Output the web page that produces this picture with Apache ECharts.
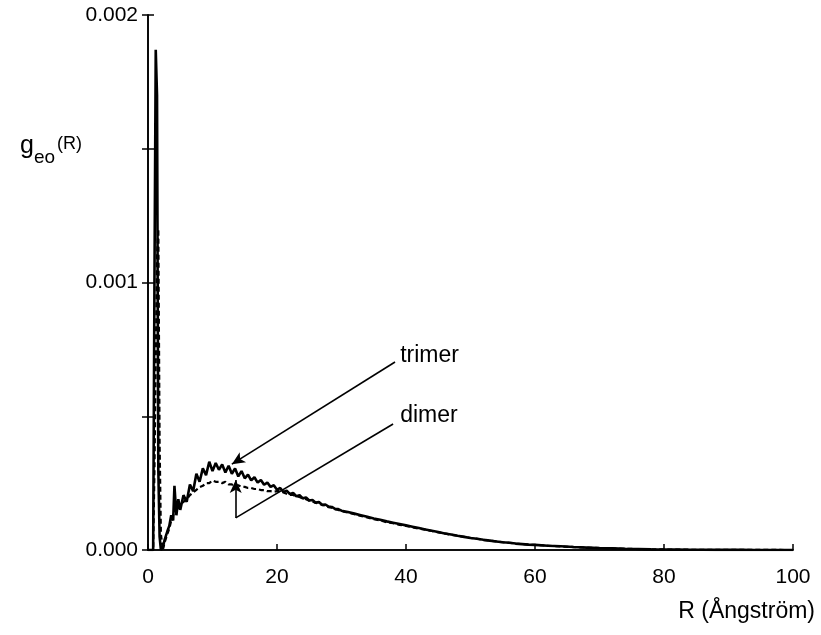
<!DOCTYPE html>
<html>
<head>
<meta charset="utf-8">
<script src="https://cdn.jsdelivr.net/npm/echarts@6/dist/echarts.min.js"></script>
<style>html,body{margin:0;padding:0;background:#fff}#c{width:821px;height:635px}</style>
</head>
<body>
<div id="c"></div>
<script>
// R values (Ångström)
const R = [0,0.8,1.0,1.2,1.4,1.6,1.8,2.0,2.3,2.6,3.0,3.3,3.6,3.9,4.1,4.4,4.7,5.0,
  5.5,6,6.5,7,7.5,8,8.5,9,9.5,10,10.5,11,11.5,12,12.5,13,13.5,14,14.5,15,15.5,16,16.5,17,17.5,18,18.5,19,19.5,20,
  20.5,21,21.5,22,22.5,23,23.5,24,24.5,25,25.5,26,26.5,27,27.5,28,28.5,29,29.5,30,
  31,32,33,34,35,36,37,38,39,40,41,42,43,44,45,46,47,48,49,50,51,52,53,54,55,56,57,58,59,60,
  62,64,66,68,70,72,74,76,78,80,82,84,86,88,90,92,94,96,98,100];
// g_eo(R) in units of 1e-4
const gTrimer = [0,0,10,18.7,17,3,0.5,0,0.1,0.4,0.7,0.9,1.3,1.1,2.4,1.3,1.9,1.5,
  2.05,1.8,2.45,2.2,2.85,2.55,3.05,2.8,3.3,2.95,3.25,3.0,3.2,2.9,3.15,2.85,3.05,2.75,2.95,2.68,2.82,2.6,2.72,2.52,2.62,2.44,2.52,2.36,2.42,2.25,
  2.32,2.17,2.22,2.09,2.13,2.01,2.05,1.93,1.96,1.85,1.87,1.77,1.79,1.69,1.7,1.62,1.61,1.54,1.53,1.47,
  1.42,1.36,1.3,1.24,1.18,1.13,1.07,1.02,0.97,0.92,0.87,0.82,0.77,0.72,0.67,0.62,0.58,0.53,0.49,0.45,0.42,0.38,0.35,0.32,0.29,0.27,0.24,0.22,0.2,0.19,
  0.16,0.14,0.11,0.09,0.07,0.06,0.045,0.035,0.025,0.02,0.015,0.01,0.008,0.006,0.005,0.003,0.002,0.001,0.001,0];
const gDimer = [0,0,3,7,11,12,4,0.6,0,0.3,0.6,0.8,1.1,1.3,1.5,1.4,1.6,1.7,
  1.8,1.9,2.05,2.15,2.25,2.35,2.4,2.5,2.5,2.6,2.55,2.55,2.5,2.55,2.45,2.45,2.4,2.42,2.36,2.36,2.32,2.32,2.28,2.28,2.24,2.24,2.2,2.2,2.18,2.2,
  2.2,2.15,2.1,2.06,2.06,2.0,1.98,1.92,1.9,1.84,1.82,1.76,1.74,1.68,1.66,1.6,1.58,1.52,1.5,1.45,
  1.4,1.34,1.27,1.22,1.15,1.11,1.04,1.0,0.94,0.9,0.85,0.8,0.76,0.71,0.66,0.62,0.57,0.53,0.49,0.45,0.42,0.38,0.35,0.32,0.29,0.27,0.24,0.22,0.2,0.19,
  0.16,0.13,0.11,0.09,0.07,0.055,0.045,0.035,0.025,0.02,0.015,0.01,0.008,0.006,0.004,0.003,0.002,0.001,0.001,0];
const xTicks = [0,20,40,60,80,100];
const yTicks = [0.000,0.001,0.002];
// annotation anchors in data coordinates
const trimerArrow = [[38.3,0.000703],[13.0,0.000321]];
const dimerLine = [[38.0,0.000471],[13.6,0.000120]];
const dimerArrow = [[13.6,0.000120],[13.6,0.000262]];
const labelPos = {trimer:[39.1,0.000712], dimer:[39.1,0.000488]};

const font = 'Liberation Sans';
const chart = echarts.init(document.getElementById('c'));
const axisLine = {show:true, lineStyle:{color:'#000', width:1.6}};
const toPairs = arr => R.map((r,i)=>[r, arr[i]*1e-4]);
const arrowLine = (a,b,arrow) => [{coord:a, symbol:'none'},{coord:b, symbol: arrow ? 'arrow' : 'none'}];

chart.setOption({
  animation:false,
  backgroundColor:'#fff',
  grid:{left:148, right:28, top:15, bottom:85},
  xAxis:[
    {type:'value', min:0, max:100, interval:20, position:'bottom',
     axisLine, splitLine:{show:false},
     axisTick:{show:true, inside:true, length:6, lineStyle:{color:'#000', width:1.5}},
     axisLabel:{fontFamily:font, fontSize:21, color:'#000', margin:17,
       formatter:v=> xTicks.includes(v) ? String(v) : ''}},
    {type:'value', min:0, max:100, interval:20, position:'top',
     axisLine, splitLine:{show:false},
     axisTick:{show:true, inside:false, length:6, lineStyle:{color:'#000', width:1.5}},
     axisLabel:{show:false}}
  ],
  yAxis:[
    {type:'value', min:0, max:0.002, interval:0.0005, position:'left',
     axisLine, splitLine:{show:false},
     axisTick:{show:true, inside:false, length:6, lineStyle:{color:'#000', width:1.5}},
     axisLabel:{fontFamily:font, fontSize:21, color:'#000', margin:10,
       formatter:v=>{ const m = yTicks.find(t=>Math.abs(t-v)<1e-9); return m===undefined ? '' : m.toFixed(3); }}},
    {type:'value', min:0, max:0.002, interval:0.0005, position:'right',
     axisLine, splitLine:{show:false},
     axisTick:{show:true, inside:false, length:6, lineStyle:{color:'#000', width:1.5}},
     axisLabel:{show:false}}
  ],
  series:[
    {name:'trimer', type:'line', data:toPairs(gTrimer), symbol:'none',
     lineStyle:{color:'#000', width:2.6}, z:3,
     markLine:{silent:true, symbolSize:[9,13], label:{show:false},
       lineStyle:{color:'#000', width:1.6, type:'solid'},
       data:[arrowLine(trimerArrow[0],trimerArrow[1],true)]}},
    {name:'dimer', type:'line', data:toPairs(gDimer), symbol:'none',
     lineStyle:{color:'#000', width:2.2, type:[5,3]}, z:2,
     markLine:{silent:true, symbolSize:[9,13], label:{show:false},
       lineStyle:{color:'#000', width:1.6, type:'solid'},
       data:[arrowLine(dimerLine[0],dimerLine[1],false), arrowLine(dimerArrow[0],dimerArrow[1],true)]}}
  ]
});

const pT = chart.convertToPixel({gridIndex:0}, labelPos.trimer);
const pD = chart.convertToPixel({gridIndex:0}, labelPos.dimer);
chart.setOption({
  graphic:[
    {type:'text', left:pT[0], top:pT[1]-15, style:{text:'trimer', font:'23px "Liberation Sans"', fill:'#000'}},
    {type:'text', left:pD[0], top:pD[1]-15, style:{text:'dimer', font:'23px "Liberation Sans"', fill:'#000'}},
    {type:'text', left:20, top:134, style:{
      text:'{g|g}{s|eo}{p|(R)}',
      rich:{
        g:{fontFamily:font, fontSize:25, fill:'#000', verticalAlign:'bottom'},
        s:{fontFamily:font, fontSize:19, fill:'#000', padding:[0,0,-8,0], verticalAlign:'bottom'},
        p:{fontFamily:font, fontSize:18, fill:'#000', padding:[0,0,6,2], verticalAlign:'bottom'}
      }}},
    {type:'text', right:6, top:600, style:{text:'R (Ångström)', font:'23px "Liberation Sans"', fill:'#000'}}
  ]
});
</script>
</body>
</html>
